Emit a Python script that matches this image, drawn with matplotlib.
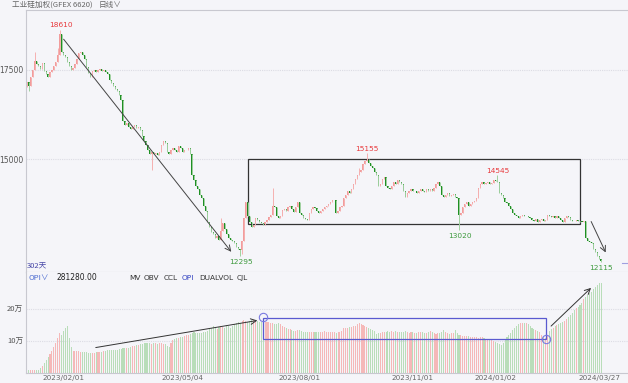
import numpy as np
import matplotlib
matplotlib.use("Agg")
import matplotlib.pyplot as plt
from matplotlib.patches import Rectangle

# daily closes, 工业硅加权 (GFEX)
closes = [
    17150, 17050, 17300, 17500, 17750, 17650, 17600, 17520, 17680, 17450,
    17380, 17300, 17420, 17500, 17600, 17700, 17900, 18500, 18000, 17900,
    17850, 17700, 17600, 17480, 17550, 17650, 17800, 17950, 17980, 17900,
    17800, 17560, 17400, 17300, 17450, 17500, 17420, 17480, 17520, 17450,
    17500, 17440, 17380, 17200, 17120, 17050, 16950, 16900, 16800, 16650,
    16050, 15950, 16000, 15900, 15850, 15900, 15950, 15880, 15900, 15800,
    15650, 15500, 15400, 15250, 15150, 15200, 15150, 15180, 15120, 15200,
    15400, 15500, 15450, 15200, 15150, 15250, 15300, 15250, 15200, 15350,
    15300, 15200, 15250, 15250, 15300, 15150, 14550, 14400, 14250, 14150,
    14000, 13900, 13700, 13550, 13250, 13100, 12950, 12900, 12800, 12850,
    12750, 13000, 13200, 13050, 12900, 12800, 12750, 12700, 12650, 12550,
    12500, 12450, 12700, 13350, 13800, 13400, 13250, 13100, 13150, 13350,
    13300, 13250, 13200, 13150, 13250, 13300, 13380, 13450, 13700, 13650,
    13400, 13350, 13400, 13580, 13600, 13560, 13650, 13700, 13600, 13520,
    13650, 13800, 13500, 13450, 13350, 13330, 13300, 13500, 13600, 13650,
    13620, 13550, 13500, 13550, 13600, 13650, 13700, 13750, 13800, 13850,
    13850, 13500, 13550, 13650, 13700, 13900, 14000, 14100, 14050, 14150,
    14300, 14450, 14550, 14650, 14700, 14850, 14950, 15000, 14900, 14800,
    14750, 14650, 14550, 14250, 14300, 14450, 14500, 14250, 14200, 14150,
    14250, 14350, 14300, 14400, 14350, 14300, 14100, 13950, 14050, 14100,
    14150, 14100, 14120, 14050, 14100, 14150, 14100, 14080, 14150, 14100,
    14150, 14100, 14200, 14300, 14350, 14250, 14000, 13950, 14000, 14050,
    13980, 14000, 14020, 13950, 13900, 13450, 13500, 13650, 13750, 13800,
    13700, 13750, 13800, 13820, 13900, 14200, 14300, 14350, 14300, 14320,
    14350, 14300, 14330, 14400, 14380, 14350, 14050, 14000, 13900, 13800,
    13780, 13700, 13600, 13500, 13450, 13400, 13350, 13420, 13450, 13400,
    13420, 13380, 13350, 13300, 13280, 13320, 13250, 13300, 13320, 13280,
    13300, 13450, 13420, 13380, 13400, 13350, 13400, 13350, 13300, 13250,
    13350, 13400, 13380, 13300, 13280, 13260, 13300, 13260, 13250, 13240,
    13260, 12800, 12700, 12680, 12650, 12500, 12400, 12300, 12200, 12150,
]
first_open = 17000

# wicks that stand out
wick_high = {4: 18000, 16: 18100, 17: 18610, 101: 13350, 128: 14190,
             173: 14750, 177: 15155, 245: 14545}
wick_low = {1: 16900, 65: 14690, 111: 12295, 112: 12350, 225: 13020, 299: 12115}

# open interest, 万
opi = [
    0.9, 0.9, 0.9, 0.9, 0.9, 0.9, 1.0, 1.5, 2.2, 3.0,
    4.0, 5.0, 6.0, 7.0, 8.0, 9.5, 11.0, 12.5, 12.0, 13.2,
    14.0, 14.7, 11.0, 8.0, 6.8, 6.9, 6.8, 6.9, 6.7, 6.6,
    6.5, 6.5, 6.4, 6.4, 6.3, 6.4, 6.5, 6.5, 6.6, 6.7,
    6.9, 7.0, 7.1, 7.2, 7.1, 7.2, 7.2, 7.3, 7.4, 7.6,
    7.8, 7.9, 7.8, 7.9, 8.1, 8.3, 8.5, 8.6, 8.8, 9.0,
    9.2, 9.3, 9.3, 9.4, 9.3, 9.2, 9.4, 9.3, 9.2, 9.3,
    9.4, 9.2, 9.0, 8.3, 8.0, 9.5, 10.2, 10.6, 10.9, 11.0,
    11.2, 11.4, 11.7, 11.8, 12.0, 12.2, 12.5, 12.8, 12.6, 12.4,
    12.5, 12.6, 12.7, 12.9, 13.2, 13.6, 14.0, 14.8, 14.3, 13.6,
    14.4, 14.8, 14.5, 14.2, 15.0, 14.6, 14.0, 14.8, 15.2, 15.5,
    15.8, 15.6, 16.2, 16.6, 16.2, 15.8, 16.2, 16.5, 16.6, 16.6,
    16.4, 16.0, 15.8, 15.7, 15.8, 15.9, 15.8, 15.7, 15.5, 15.4,
    15.2, 15.5, 15.3, 14.8, 14.5, 14.0, 13.8, 13.6, 13.4, 13.2,
    13.2, 13.4, 13.3, 13.0, 12.9, 12.8, 12.7, 12.9, 12.8, 12.7,
    12.8, 12.9, 12.8, 12.7, 12.9, 13.0, 12.9, 12.8, 12.7, 12.8,
    12.8, 12.6, 12.7, 12.9, 13.0, 14.0, 14.1, 14.2, 14.3, 14.5,
    14.6, 14.8, 15.2, 15.6, 15.4, 15.0, 14.6, 14.4, 14.2, 13.8,
    13.4, 13.0, 12.3, 12.5, 12.6, 12.8, 12.9, 12.8, 13.0, 12.9,
    13.1, 12.9, 13.0, 12.8, 12.9, 12.7, 12.8, 13.0, 12.9, 12.6,
    12.7, 12.8, 12.6, 12.5, 12.7, 12.8, 12.9, 12.6, 12.5, 12.8,
    13.0, 12.8, 12.5, 12.3, 12.4, 12.6, 12.8, 13.3, 12.8, 12.4,
    12.3, 12.5, 12.4, 13.5, 12.6, 12.0, 11.8, 11.7, 11.6, 11.6,
    11.5, 11.3, 11.2, 11.2, 11.1, 11.0, 11.2, 11.4, 11.0, 10.6,
    10.4, 10.3, 10.2, 10.0, 9.8, 9.5, 9.0, 8.8, 9.4, 10.5,
    11.2, 11.8, 12.6, 13.5, 14.2, 14.8, 15.3, 15.6, 15.5, 15.6,
    15.5, 15.2, 14.8, 14.2, 13.8, 13.5, 13.2, 12.8, 12.0, 11.3,
    11.0, 12.0, 13.0, 13.6, 14.0, 14.6, 15.0, 15.4, 15.6, 16.0,
    16.4, 16.8, 17.4, 18.2, 18.8, 19.6, 20.2, 20.6, 21.2, 22.0,
    23.0, 23.8, 24.5, 25.0, 25.4, 26.2, 27.0, 27.5, 28.1, 28.128,
]

date_idx = [19, 81, 142, 201, 244, 298]
date_labels = ["2023/02/01", "2023/05/04", "2023/08/01", "2023/11/01",
               "2024/01/02", "2024/03/27"]

# marked extremes: (bar, label y-price, text, colour)
marks = [(17.5, 18743, "18610", "#e8393c"), (111.5, 12123, "12295", "#3d9a3d"),
         (177, 15279, "15155", "#e8393c"), (245.3, 14665, "14545", "#e8393c"),
         (225.5, 12849, "13020", "#3d9a3d"), (299, 11956, "12115", "#3d9a3d")]

W, H = 628, 383
bg = "#f5f5f9"
cjk = ["Noto Sans CJK SC", "DejaVu Sans"]

fig = plt.figure(figsize=(W / 100, H / 100), dpi=100, facecolor=bg)


def fy(py):
    return 1 - py / H


ax = fig.add_axes([26 / W, fy(272), 602 / W, 262 / H], facecolor=bg)
ax2 = fig.add_axes([26 / W, fy(373), 602 / W, 101 / H], facecolor=bg)

x = np.arange(len(closes))
c = np.array(closes, dtype=float)
o = np.concatenate([[first_open], c[:-1]])
up = c >= o
hi = np.maximum(o, c)
lo = np.minimum(o, c)
for k, v in wick_high.items():
    hi[k] = v
for k, v in wick_low.items():
    lo[k] = v

up_col, dn_col = "#f29c9c", "#1f8f24"
ax.vlines(x[up], lo[up], hi[up], color="#f5b0b0", lw=0.7)
ax.vlines(x[~up], lo[~up], hi[~up], color="#9fd09f", lw=0.7)
body = np.where(np.abs(c - o) < 15, 15, c - o)
ax.bar(x[up], body[up], bottom=o[up], width=0.65, color=up_col, lw=0)
ax.bar(x[~up], body[~up], bottom=o[~up], width=0.65, color=dn_col, lw=0)

ax.set_xlim(-0.5, 313)
ax.set_ylim(11844, 19162)
for p in (17500, 15000):
    ax.axhline(p, color="#dcdce4", lw=0.8, ls=(0, (1, 1)), zorder=0)
ax.set_yticks([17500, 15000])
ax.set_yticklabels(["17500", "15000"])
ax.tick_params(axis="y", length=0, pad=2, labelsize=5.5, labelcolor="#555555")
ax.set_xticks([])
for s in ("right",):
    ax.spines[s].set_visible(False)
for s in ("left", "top", "bottom"):
    ax.spines[s].set_color("#c8c8d0")
    ax.spines[s].set_linewidth(0.8)

# trend lines, box, labels
ax.annotate("", xy=(107.3, 12347), xytext=(18.2, 18407),
            arrowprops=dict(arrowstyle="->", color="#444444", lw=0.7))
ax.annotate("", xy=(302, 12319), xytext=(293.2, 13324),
            arrowprops=dict(arrowstyle="->", color="#444444", lw=0.7))
ax.add_patch(Rectangle((115, 13184), 173, 15000 - 13184, fill=False,
                       ec="#333333", lw=0.9))
for bx, py, t, col in marks:
    ax.text(bx, py, t, color=col, fontsize=5.3, ha="center", va="center")
ax.plot([310, 313], [12100, 12100], color="#a0a0e0", lw=0.8)

# open interest panel
v = np.array(opi) * 10000
ax2.bar(x[up], v[up], width=0.55, color="#f5b8b8", lw=0)
ax2.bar(x[~up], v[~up], width=0.55, color="#b9ddb9", lw=0)
ax2.set_xlim(-0.5, 313)
ax2.set_ylim(0, 315600)
for q in (100000, 200000):
    ax2.axhline(q, color="#dcdce4", lw=0.8, ls=(0, (1, 1)), zorder=0)
ax2.set_yticks([100000, 200000])
ax2.set_yticklabels(["10万", "20万"], family=cjk)
ax2.tick_params(axis="y", length=0, pad=2, labelsize=5.5, labelcolor="#555555")
ax2.set_xticks(date_idx)
ax2.set_xticklabels(date_labels)
ax2.tick_params(axis="x", length=0, pad=1.5, labelsize=5.2, labelcolor="#666666")
for s in ("right", "top"):
    ax2.spines[s].set_visible(False)
for s in ("left", "bottom"):
    ax2.spines[s].set_color("#c8c8d0")
    ax2.spines[s].set_linewidth(0.8)

ax2.annotate("", xy=(121.4, 165600), xytext=(34.4, 78100),
             arrowprops=dict(arrowstyle="->", color="#333333", lw=0.7))
ax2.annotate("", xy=(294.8, 271900), xytext=(271.9, 140600),
             arrowprops=dict(arrowstyle="->", color="#333333", lw=0.7))
ax2.add_patch(Rectangle((122.9, 106250), 270.3 - 122.9, 171875 - 106250,
                        fill=False, ec="#5a5ad0", lw=0.9))
ax2.plot([122.9, 270.3], [175000, 106250], ls="none", marker="o", ms=6,
         mfc="none", mec="#7a7ae0", mew=0.8)

# header texts
fig.text(12 / W, fy(5), "工业硅加权(GFEX 6620)", family=cjk, fontsize=5.5,
         color="#666666", va="center")
fig.text(99 / W, fy(5), "日线∨", family=cjk, fontsize=5.5, color="#666666",
         va="center")
fig.text(27 / W, fy(267), "302天", family=cjk, fontsize=5.5, color="#4848a8",
         va="center")
fig.text(29 / W, fy(278), "OPI∨", family=cjk, fontsize=5.5, color="#4a6ad0",
         va="center")
fig.text(57 / W, fy(278), "281280.00", fontsize=5.5, color="#222222", va="center")
for px, t, col in [(129, "MV", "#333333"), (144, "OBV", "#333333"),
                   (164, "CCL", "#333333"), (182, "OPI", "#3040c0"),
                   (199, "DUALVOL", "#333333"), (237, "CJL", "#333333")]:
    fig.text(px / W, fy(278), t, fontsize=5.3, color=col, va="center")

fig.savefig("out.png", dpi=100, facecolor=bg)
